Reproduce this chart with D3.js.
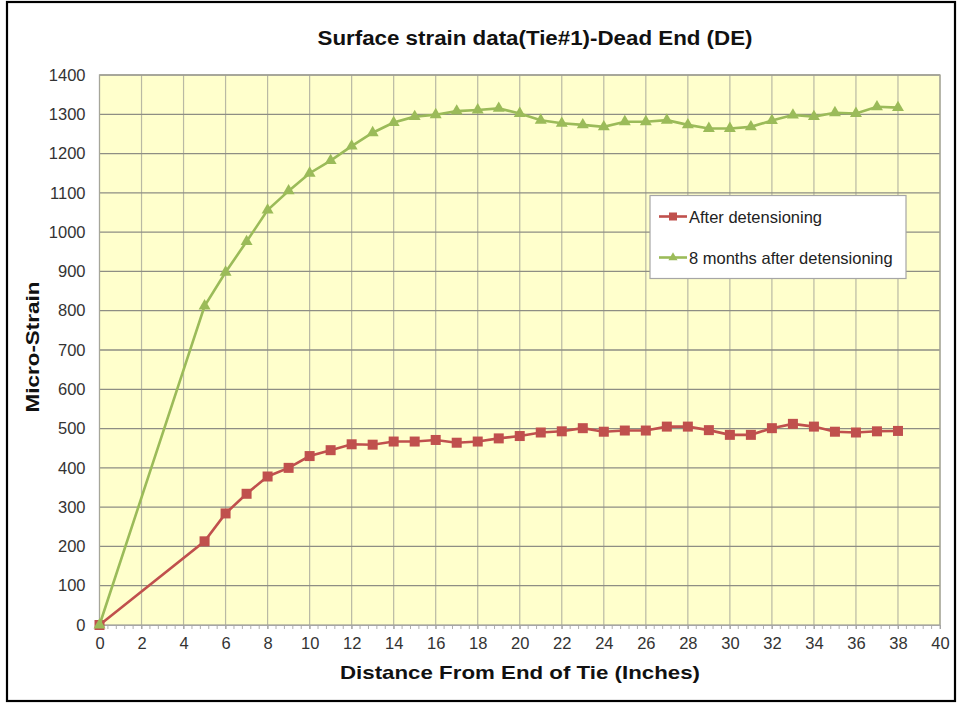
<!DOCTYPE html>
<html>
<head>
<meta charset="utf-8">
<script src="https://cdn.jsdelivr.net/npm/d3@7"></script>
<style>
  html, body { margin: 0; padding: 0; background: #fff; }
  svg { display: block; font-family: "Liberation Sans", Arial, sans-serif; }
</style>
</head>
<body>
<svg id="chart" width="960" height="704"></svg>
<script>
const distance = [0, 5, 6, 7, 8, 9, 10, 11, 12, 13, 14, 15, 16, 17, 18, 19, 20, 21, 22, 23, 24, 25, 26, 27, 28, 29, 30, 31, 32, 33, 34, 35, 36, 37, 38];
const afterDetensioning = [0, 213, 284, 334, 378, 400, 430, 445, 460, 459, 467, 467, 471, 464, 467, 475, 481, 490, 493, 501, 492, 495, 495, 505, 505, 496, 484, 484, 501, 512, 505, 492, 490, 493, 494];
const eightMonths = [0, 812, 898, 976, 1056, 1105, 1150, 1182, 1219, 1253, 1279, 1294, 1299, 1308, 1311, 1315, 1302, 1285, 1277, 1273, 1268, 1281, 1281, 1285, 1273, 1264, 1264, 1268, 1284, 1298, 1294, 1304, 1302, 1319, 1317];
const xTicks = [0, 2, 4, 6, 8, 10, 12, 14, 16, 18, 20, 22, 24, 26, 28, 30, 32, 34, 36, 38, 40];
const yTicks = [0, 100, 200, 300, 400, 500, 600, 700, 800, 900, 1000, 1100, 1200, 1300, 1400];
const seriesNames = ["After detensioning", "8 months after detensioning"];
const titleText = "Surface strain data(Tie#1)-Dead End (DE)";
const xLabel = "Distance From End of Tie (Inches)";
const yLabel = "Micro-Strain";

const svg = d3.select("#chart");
const L = 99.5, R = 940, T = 75, B = 625;
const x = d3.scaleLinear().domain([0, 40]).range([L, R]);
const y = d3.scaleLinear().domain([0, 1400]).range([B, T]);

// outer border
svg.append("rect").attr("x", 7).attr("y", 2).attr("width", 948).attr("height", 699)
  .attr("fill", "#fff").attr("stroke", "#000").attr("stroke-width", 2.2);

// plot bg
svg.append("rect").attr("x", L).attr("y", T).attr("width", R - L).attr("height", B - T)
  .attr("fill", "#FFFFCC");

// vertical grid
svg.append("g").selectAll("line").data(xTicks.slice(1)).join("line")
  .attr("x1", d => x(d)).attr("x2", d => x(d)).attr("y1", T).attr("y2", B)
  .attr("stroke", "#b9b9a4").attr("stroke-width", 1.2);
// horizontal grid
svg.append("g").selectAll("line").data(yTicks.slice(1)).join("line")
  .attr("x1", L).attr("x2", R).attr("y1", d => y(d)).attr("y2", d => y(d))
  .attr("stroke", "#8e8e84").attr("stroke-width", 1.3);

// plot border
svg.append("rect").attr("x", L).attr("y", T).attr("width", R - L).attr("height", B - T)
  .attr("fill", "none").attr("stroke", "#a6a69a").attr("stroke-width", 1.3);

// x axis with minor ticks
const minor = d3.range(0, 40.001, 0.4);
svg.append("g").selectAll("line").data(minor).join("line")
  .attr("x1", d => x(d)).attr("x2", d => x(d)).attr("y1", B).attr("y2", B + 4)
  .attr("stroke", "#b0b0b0").attr("stroke-width", 1);
const xAxis = d3.axisBottom(x).tickValues(xTicks).tickSize(4).tickPadding(8).tickFormat(d3.format("d"));
const gx = svg.append("g").attr("transform", `translate(0,${B})`).call(xAxis)
  .attr("font-size", 16.5).attr("font-family", "'Liberation Sans', Arial, sans-serif");
gx.select(".domain").attr("stroke", "#a6a6a6");
gx.selectAll(".tick line").attr("stroke", "#a6a6a6");
gx.selectAll("text").attr("fill", "#333");

const yAxis = d3.axisLeft(y).tickValues(yTicks).tickSize(0).tickPadding(14).tickFormat(d3.format("d"));
const gy = svg.append("g").attr("transform", `translate(${L},0)`).call(yAxis)
  .attr("font-size", 16.5).attr("font-family", "'Liberation Sans', Arial, sans-serif");
gy.select(".domain").remove();
gy.selectAll("text").attr("fill", "#333");

// series
const red = "#C0504D", green = "#9BBB59";
const line = d3.line().x(d => x(d[0])).y(d => y(d[1]));
const redData = distance.map((d, i) => [d, afterDetensioning[i]]);
const greenData = distance.map((d, i) => [d, eightMonths[i]]);

svg.append("path").datum(redData).attr("d", line).attr("fill", "none")
  .attr("stroke", red).attr("stroke-width", 2.6);
svg.append("g").selectAll("rect").data(redData).join("rect")
  .attr("x", d => x(d[0]) - 5).attr("y", d => y(d[1]) - 5)
  .attr("width", 10).attr("height", 10).attr("fill", red);

svg.append("path").datum(greenData).attr("d", line).attr("fill", "none")
  .attr("stroke", green).attr("stroke-width", 2.6);
const tri = d3.symbol().type(d3.symbolTriangle).size(62);
svg.append("g").selectAll("path").data(greenData).join("path")
  .attr("transform", d => `translate(${x(d[0])},${y(d[1])})`)
  .attr("d", tri).attr("fill", green);

// title
svg.append("text").attr("x", 535).attr("y", 45).attr("text-anchor", "middle")
  .attr("font-size", "20px").attr("font-weight", "bold").attr("fill", "#111")
  .attr("textLength", 435).attr("lengthAdjust", "spacingAndGlyphs")
  .text(titleText);

// axis titles
svg.append("text").attr("x", 520).attr("y", 679).attr("text-anchor", "middle")
  .attr("font-size", "19px").attr("font-weight", "bold").attr("fill", "#111")
  .attr("textLength", 360).attr("lengthAdjust", "spacingAndGlyphs")
  .text(xLabel);
svg.append("text").attr("transform", "translate(39,347) rotate(-90)").attr("text-anchor", "middle")
  .attr("font-size", "18.5px").attr("font-weight", "bold").attr("fill", "#111")
  .attr("textLength", 131).attr("lengthAdjust", "spacingAndGlyphs")
  .text(yLabel);

// legend
const lg = svg.append("g");
lg.append("rect").attr("x", 650).attr("y", 195.5).attr("width", 256).attr("height", 83)
  .attr("fill", "#fff").attr("stroke", "#a6a6a6").attr("stroke-width", 1.2);
const entries = [
  { name: seriesNames[0], color: red, shape: "square", yy: 216.5 },
  { name: seriesNames[1], color: green, shape: "triangle", yy: 257.5 }
];
entries.forEach(e => {
  lg.append("line").attr("x1", 659).attr("x2", 687).attr("y1", e.yy).attr("y2", e.yy)
    .attr("stroke", e.color).attr("stroke-width", 2.6);
  if (e.shape === "square") {
    lg.append("rect").attr("x", 673 - 4).attr("y", e.yy - 4).attr("width", 8).attr("height", 8).attr("fill", e.color);
  } else {
    lg.append("path").attr("transform", `translate(673,${e.yy})`)
      .attr("d", d3.symbol().type(d3.symbolTriangle).size(36)).attr("fill", e.color);
  }
  lg.append("text").attr("x", 689).attr("y", e.yy + 6).attr("font-size", "16.5px").attr("fill", "#222")
    .text(e.name);
});
</script>
</body>
</html>
